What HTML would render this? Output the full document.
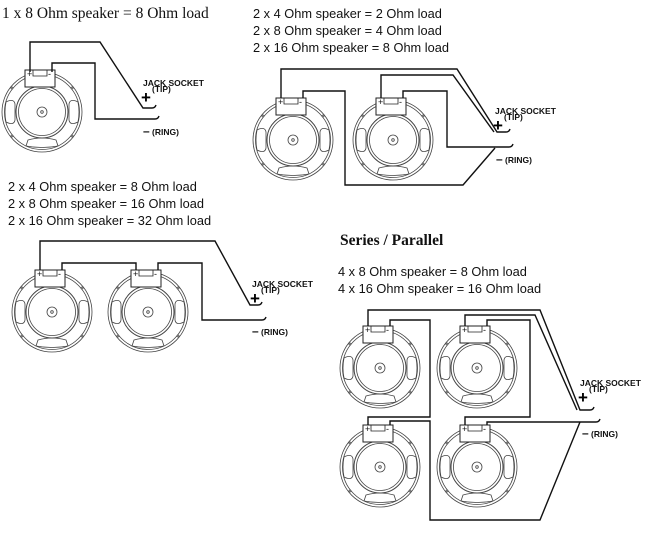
<!DOCTYPE html>
<html><head><meta charset="utf-8"><style>
html,body{margin:0;padding:0;background:#fff;}
svg{display:block;}
.t{font-family:"Liberation Sans",sans-serif;font-size:12.8px;fill:#111;}
.s{font-family:"Liberation Serif",serif;font-size:15.5px;fill:#111;}
.j{font-family:"Liberation Sans",sans-serif;font-size:8.5px;font-weight:bold;fill:#111;}
.w{fill:none;stroke:#111;stroke-width:1.4;}
</style></head><body>
<svg width="655" height="539" viewBox="0 0 655 539" xmlns="http://www.w3.org/2000/svg">
<defs>
<g id="spk" fill="none" stroke="#444" stroke-width="0.8">
<circle r="40"/><circle r="37.5"/>
<circle r="26" stroke-width="1"/><circle r="23.5"/>
<circle r="5"/><circle r="1.3"/>
<path d="M-36,-10 Q-28,-14 -27,-8 L-27,8 Q-28,14 -36,10 Q-38,0 -36,-10Z"/>
<path d="M36,-10 Q28,-14 27,-8 L27,8 Q28,14 36,10 Q38,0 36,-10Z"/>
<path d="M-14,28 Q0,24 14,28 L16,34 Q0,37 -16,34Z"/>
<circle cx="-30" cy="-24" r="1"/><circle cx="30" cy="24" r="1"/><circle cx="-30" cy="24" r="1"/><circle cx="30" cy="-24" r="1"/>
<rect x="-17" y="-42" width="30" height="17" fill="#fff" stroke="#222" stroke-width="1"/>
<path d="M-9,-42 L-9,-36 L5,-36 L5,-42" stroke="#222"/>
<text x="-15" y="-35" font-size="9" font-family="Liberation Sans" fill="#111" stroke="none">+</text>
<text x="6" y="-35" font-size="9" font-family="Liberation Sans" fill="#111" stroke="none">-</text>
</g>
</defs>

<text class="s" x="2" y="18">1 x 8 Ohm speaker = 8 Ohm load</text>
<text class="t" x="253" y="18">2 x 4 Ohm speaker = 2 Ohm load</text>
<text class="t" x="253" y="35">2 x 8 Ohm speaker = 4 Ohm load</text>
<text class="t" x="253" y="52">2 x 16 Ohm speaker = 8 Ohm load</text>
<text class="t" x="8" y="191">2 x 4 Ohm speaker = 8 Ohm load</text>
<text class="t" x="8" y="208">2 x 8 Ohm speaker = 16 Ohm load</text>
<text class="t" x="8" y="225">2 x 16 Ohm speaker = 32 Ohm load</text>
<text class="s" x="340" y="245" font-weight="bold">Series / Parallel</text>
<text class="t" x="338" y="276">4 x 8 Ohm speaker = 8 Ohm load</text>
<text class="t" x="338" y="293">4 x 16 Ohm speaker = 16 Ohm load</text>

<use href="#spk" x="42" y="112"/>
<path class="w" d="M30,72 V42 H100 L143,108 H152 q3,0 4,-3"/>
<path class="w" d="M52,72 V63 H95 V119 H155 q3,0 4,-3"/>
<text class="j" x="143" y="86">JACK SOCKET</text><text class="j" x="152" y="92" font-size="7.5">(TIP)</text>
<text x="141" y="103" font-size="17" font-family="Liberation Sans" font-weight="bold">+</text>
<text class="j" x="143" y="135"><tspan font-size="12">–</tspan> (RING)</text>

<use href="#spk" x="293" y="140"/><use href="#spk" x="393" y="140"/>
<path class="w" d="M281,98 V69 H457 L497,132 H506 q3,0 4,-3"/>
<path class="w" d="M381,98 V75 H453 L494,132"/>
<path class="w" d="M303,98 V91 H345 V185 H463 L495,148"/>
<path class="w" d="M403,98 V91 H447 V147 H509 q3,0 4,-3"/>
<text class="j" x="495" y="114">JACK SOCKET</text><text class="j" x="504" y="120" font-size="7.5">(TIP)</text>
<text x="493" y="131" font-size="17" font-family="Liberation Sans" font-weight="bold">+</text>
<text class="j" x="496" y="163"><tspan font-size="12">–</tspan> (RING)</text>

<use href="#spk" x="52" y="312"/><use href="#spk" x="148" y="312"/>
<path class="w" d="M40,270 V241 H215 L250,305 H258 q3,0 4,-3"/>
<path class="w" d="M62,270 V263 H136 V270"/>
<path class="w" d="M158,270 V263 H202 V320 H262 q3,0 4,-3"/>
<text class="j" x="252" y="287">JACK SOCKET</text><text class="j" x="261" y="293" font-size="7.5">(TIP)</text>
<text x="250" y="304" font-size="17" font-family="Liberation Sans" font-weight="bold">+</text>
<text class="j" x="252" y="335"><tspan font-size="12">–</tspan> (RING)</text>

<use href="#spk" x="380" y="368"/><use href="#spk" x="477" y="368"/>
<use href="#spk" x="380" y="467"/><use href="#spk" x="477" y="467"/>
<path class="w" d="M368,326 V310 H540 L580,410 H590 q3,0 4,-3"/>
<path class="w" d="M465,326 V315 H535 L577,410"/>
<path class="w" d="M390,326 V320 H430 V417 H368 V425"/>
<path class="w" d="M487,326 V320 H530 V417 H465 V425"/>
<path class="w" d="M390,425 V421 H430 V520 H540 L580,422"/>
<path class="w" d="M487,425 V422 H596 q3,0 4,-3"/>
<text class="j" x="580" y="386">JACK SOCKET</text><text class="j" x="589" y="392" font-size="7.5">(TIP)</text>
<text x="578" y="403" font-size="17" font-family="Liberation Sans" font-weight="bold">+</text>
<text class="j" x="582" y="437"><tspan font-size="12">–</tspan> (RING)</text>
</svg>
</body></html>
